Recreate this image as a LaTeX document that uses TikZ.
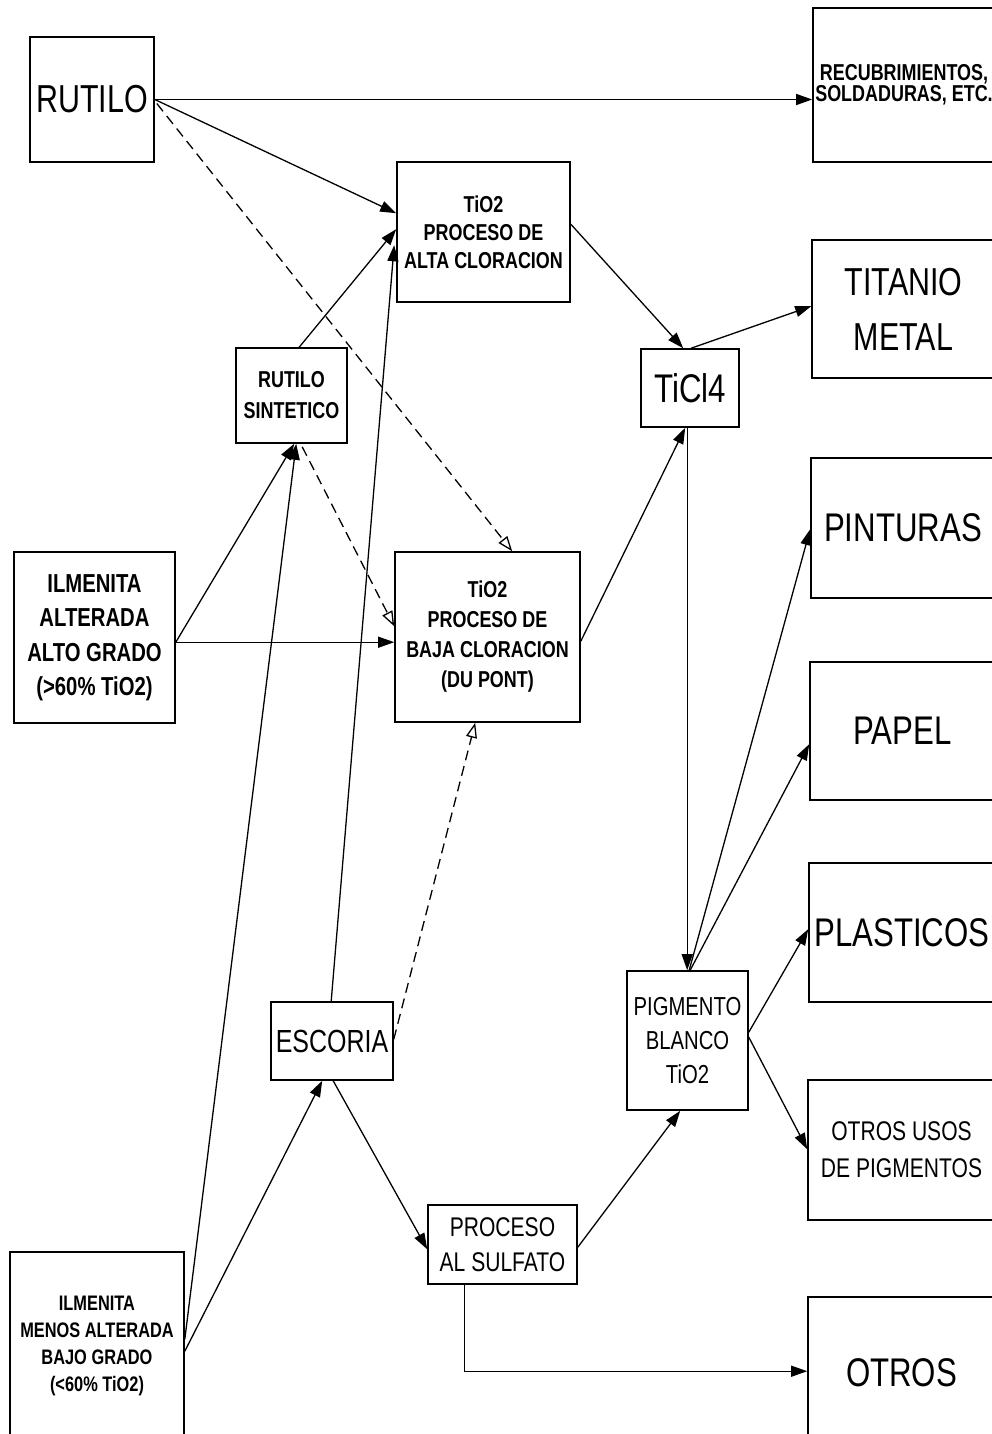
\documentclass[tikz,border=0pt]{standalone}
\usepackage{fontspec}
\newfontfamily\cad[FakeStretch=0.78]{Liberation Sans}
\usetikzlibrary{arrows.meta,calc}
\begin{document}
\begin{tikzpicture}[x=1pt,y=-1pt,
  box/.style={draw,line width=1.6pt,inner sep=0pt,align=center},
  f/.style 2 args={font=\cad\fontsize{#1}{#2}\selectfont},
  fb/.style 2 args={font=\cad\bfseries\fontsize{#1}{#2}\selectfont},
  conn/.style={line width=1.3pt,-{Triangle[length=16pt,width=11pt]}},
  dconn/.style={line width=1.3pt,dash pattern=on 10pt off 6pt,-{Triangle[open,length=15pt,width=11pt,line width=1.3pt]}},
]
\useasboundingbox (0,0) rectangle (992,1434);
\clip (0,0) rectangle (992,1434);
% nodes
\node[box,minimum width=124pt,minimum height=125pt,f={39}{47}] (rut) at (92,99.5) {RUTILO};
\node[box,minimum width=182pt,minimum height=154pt,fb={23}{19}] (recub) at (904,85) {RECUBRIMIENTOS,\\SOLDADURAS, ETC.};
\node[box,minimum width=173pt,minimum height=140pt,fb={23}{28}] (alta) at (483.5,232) {TiO2\\PROCESO DE\\ALTA CLORACION};
\node[box,minimum width=183pt,minimum height=138pt,f={39}{55}] (titanio) at (903.5,309) {TITANIO\\METAL};
\node[box,minimum width=98pt,minimum height=78pt,f={40}{48}] (ticl) at (690,388) {TiCl4};
\node[box,minimum width=111pt,minimum height=95pt,fb={23}{31}] (sint) at (291.5,395.5) {RUTILO\\SINTETICO};
\node[box,minimum width=161pt,minimum height=171pt,fb={26}{34.5}] (ilmalt) at (94.5,637.5) {ILMENITA\\ALTERADA\\ALTO GRADO\\(>60\% TiO2)};
\node[box,minimum width=185pt,minimum height=170pt,fb={23}{30}] (baja) at (487.5,637) {TiO2\\PROCESO DE\\BAJA CLORACION\\(DU PONT)};
\node[box,minimum width=184pt,minimum height=140pt,f={40}{48}] (pint) at (903,528) {PINTURAS};
\node[box,minimum width=185pt,minimum height=138pt,f={40}{48}] (papel) at (902.5,731) {PAPEL};
\node[box,minimum width=186pt,minimum height=139pt,f={40}{48}] (plast) at (902,932.5) {PLASTICOS};
\node[box,minimum width=187pt,minimum height=140pt,f={27}{37}] (otrosusos) at (901.5,1150) {OTROS USOS\\DE PIGMENTOS};
\node[box,minimum width=122pt,minimum height=78pt,f={32}{40}] (esc) at (332,1041) {ESCORIA};
\node[box,minimum width=121pt,minimum height=139pt,f={26}{34}] (pig) at (687.5,1040.5) {PIGMENTO\\BLANCO\\TiO2};
\node[box,minimum width=149pt,minimum height=79pt,f={27}{35}] (sulf) at (502.5,1244.5) {PROCESO\\AL SULFATO};
\node[box,minimum width=174pt,minimum height=188pt,fb={21}{27}] (ilmmen) at (97,1346) {ILMENITA\\MENOS ALTERADA\\BAJO GRADO\\(<60\% TiO2)};
\node[box,minimum width=187pt,minimum height=152pt,f={40}{48}] (otros) at (901.5,1373) {OTROS};
% connectors
\draw[conn] (rut.east) -- (rut.east -| recub.west);
\draw[conn] (rut.east) -- ($(alta.north west)+(0,52)$);
\draw[dconn] ($(rut.east)+(2,4)$) -- ($(baja.north west)+(118,0)$);
\draw[conn] ($(sint.north west)+(64,0)$) -- ($(alta.north west)+(0,68)$);
\draw[conn] ($(esc.north west)+(61,0)$) -- ($(alta.north west)+(-2,84)$);
\draw[conn] ($(ilmmen.north east)+(0,88)$) -- ($(sint.south west)+(61,0)$);
\draw[conn] ($(ilmalt.north east)+(0,91)$) -- ($(baja.north west)+(0,91)$);
\draw[conn] ($(ilmalt.north east)+(0,91)$) -- ($(sint.south west)+(59,0)$);
\draw[dconn] ($(sint.south west)+(67,3)$) -- ($(baja.north west)+(0,75)$);
\draw[dconn] ($(esc.north east)+(0,38)$) -- ($(baja.south west)+(81,0)$);
\draw[conn] ($(esc.south west)+(63,0)$) -- ($(sulf.north west)+(0,45)$);
\draw[conn] ($(ilmmen.north east)+(0,100)$) -- ($(esc.south west)+(52,0)$);
\draw[conn] ($(alta.north east)+(0,63)$) -- ($(ticl.north west)+(43,0)$);
\draw[conn] ($(ticl.north west)+(51,0)$) -- ($(titanio.north west)+(0,67)$);
\draw[conn] ($(baja.north east)+(0,90)$) -- ($(ticl.south west)+(45,0)$);
\draw[conn] ($(ticl.south west)+(47,0)$) -- ($(pig.north west)+(61,0)$);
\draw[conn] ($(pig.north west)+(63,0)$) -- ($(pint.north west)+(0,72)$);
\draw[conn] ($(pig.north west)+(64,0)$) -- ($(papel.north west)+(0,83)$);
\draw[conn] ($(pig.north east)+(0,62)$) -- ($(plast.north west)+(0,67)$);
\draw[conn] ($(pig.north east)+(0,67)$) -- ($(otrosusos.north west)+(0,70)$);
\draw[conn] ($(sulf.north east)+(0,43)$) -- ($(pig.south west)+(54,0)$);
\draw[conn] ($(sulf.south west)+(37,0)$) |- ($(otros.north west)+(0,75)$);
\end{tikzpicture}
\end{document}
